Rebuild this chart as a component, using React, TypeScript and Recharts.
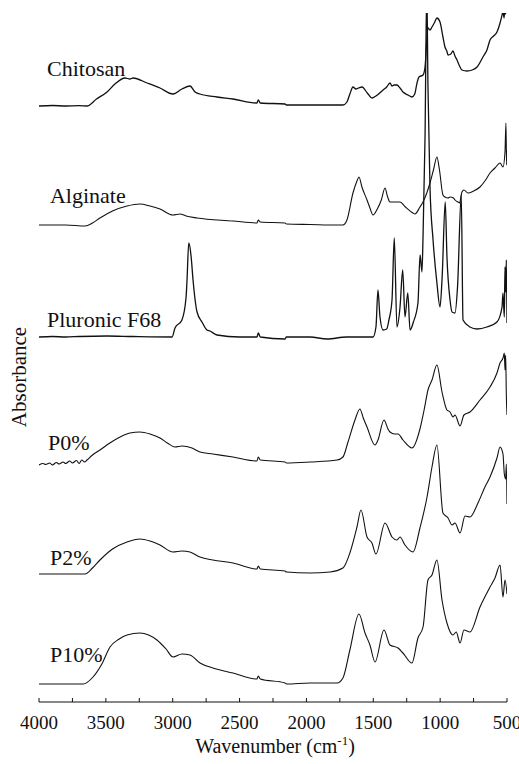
import { LineChart, Line, XAxis, YAxis, ReferenceDot } from "recharts";

const FONT = "Liberation Serif, DejaVu Serif, Noto Serif, serif";
const INK = "#111";

// wavenumber (cm-1), absorbance relative to each trace's own baseline (a.u.)
const chitosan: [number, number][] = [
  [4000, 0], [3900, 0.005], [3800, 0], [3700, 0.003], [3641, 0], [3570, 0.07], [3491, 0.14],
  [3432, 0.22], [3357, 0.28], [3320, 0.27], [3297, 0.28], [3192, 0.23], [3095, 0.18], [2998, 0.12],
  [2931, 0.17], [2871, 0.2], [2833, 0.14], [2796, 0.12], [2669, 0.09], [2549, 0.07], [2370, 0.03],
  [2360, 0.06], [2345, 0.03], [2160, 0.02], [2150, 0.01], [1973, 0.01], [1850, 0.01], [1727, 0.01],
  [1697, 0.04], [1675, 0.12], [1652, 0.19], [1630, 0.17], [1610, 0.18], [1584, 0.19], [1545, 0.13],
  [1510, 0.08], [1480, 0.1], [1427, 0.16], [1400, 0.19], [1375, 0.23], [1360, 0.2], [1345, 0.21],
  [1323, 0.21], [1300, 0.18], [1278, 0.14], [1240, 0.11], [1211, 0.09], [1190, 0.12], [1173, 0.23],
  [1158, 0.29], [1128, 0.31], [1113, 0.39], [1091, 0.78], [1076, 0.76], [1061, 0.79], [1040, 0.84],
  [1024, 0.88], [1001, 0.84], [979, 0.69], [964, 0.59], [950, 0.55], [941, 0.51], [920, 0.52],
  [904, 0.55], [889, 0.5], [874, 0.46], [855, 0.4], [837, 0.36], [799, 0.35], [760, 0.36],
  [724, 0.39], [680, 0.49], [650, 0.56], [627, 0.66], [600, 0.7], [575, 0.74], [552, 0.83],
  [537, 0.91], [530, 0.95], [522, 0.88], [515, 0.99], [510, 0.92], [505, 1.0], [500, 0.95],
];

const alginate: [number, number][] = [
  [4000, 0], [3800, 0], [3656, -0.01], [3600, 0.02], [3544, 0.07], [3450, 0.14], [3342, 0.19],
  [3245, 0.21], [3170, 0.19], [3095, 0.16], [2998, 0.1], [2946, 0.11], [2900, 0.09], [2818, 0.07],
  [2549, 0.04], [2370, 0.02], [2360, 0.05], [2345, 0.03], [2160, 0.02], [2150, 0.01], [1973, 0.005],
  [1771, 0], [1727, 0], [1697, 0.05], [1652, 0.32], [1622, 0.44], [1607, 0.48], [1585, 0.38],
  [1547, 0.25], [1525, 0.17], [1502, 0.1], [1470, 0.16], [1440, 0.25], [1412, 0.37], [1395, 0.29],
  [1375, 0.23], [1345, 0.23], [1300, 0.23], [1260, 0.18], [1203, 0.12], [1188, 0.11], [1151, 0.18],
  [1128, 0.23], [1100, 0.32], [1076, 0.42], [1050, 0.55], [1024, 0.68], [1005, 0.55], [979, 0.3],
  [964, 0.28], [941, 0.27], [926, 0.28], [900, 0.27], [889, 0.25], [866, 0.23], [855, 0.22],
  [837, 0.33], [822, 0.35], [792, 0.32], [750, 0.34], [702, 0.38], [660, 0.45], [627, 0.52],
  [590, 0.57], [552, 0.62], [530, 0.58], [515, 0.73], [508, 1.02], [503, 0.6], [500, 0.75],
];

const pluronic: [number, number][] = [
  [4000, 0], [3900, 0.005], [3800, 0], [3700, 0.005], [3491, 0.01], [3300, 0.005], [3005, 0],
  [2983, 0.09], [2931, 0.17], [2900, 0.4], [2893, 0.57], [2880, 0.94], [2862, 0.8], [2848, 0.57],
  [2818, 0.25], [2781, 0.15], [2744, 0.07], [2721, 0.06], [2669, 0.02], [2500, 0], [2370, 0],
  [2360, 0.04], [2345, 0], [2160, -0.02], [2150, 0], [1973, 0], [1846, -0.02], [1700, 0], [1502, 0],
  [1480, 0.1], [1465, 0.47], [1450, 0.2], [1427, 0.07], [1400, 0.08], [1383, 0.17], [1360, 0.37],
  [1343, 0.99], [1323, 0.1], [1300, 0.3], [1280, 0.67], [1263, 0.2], [1242, 0.44], [1225, 0.07],
  [1200, 0.15], [1166, 0.34], [1150, 0.82], [1136, 0.65], [1128, 1.0], [1113, 2.0], [1100, 3.5],
  [1091, 2.5], [1076, 1.5], [1053, 0.97], [1024, 0.54], [1001, 0.3], [985, 0.6], [962, 1.35],
  [949, 0.8], [926, 0.37], [911, 0.25], [889, 0.24], [870, 0.5], [842, 1.42], [829, 0.17],
  [777, 0.1], [724, 0.08], [650, 0.1], [575, 0.15], [537, 0.3], [530, 0.44], [520, 0.2],
  [515, 0.7], [510, 0.45], [505, 0.77], [500, 0.14],
];

const p0: [number, number][] = [
  [4000, 0], [3970, 0.015], [3950, 0.005], [3920, 0.02], [3900, 0], [3870, 0.025], [3850, 0.01],
  [3820, 0.03], [3800, 0.015], [3770, 0.04], [3750, 0.02], [3720, 0.045], [3700, 0.015],
  [3680, 0.05], [3660, 0.03], [3641, 0.05], [3600, 0.1], [3544, 0.15], [3470, 0.22], [3394, 0.28],
  [3320, 0.32], [3245, 0.33], [3170, 0.31], [3095, 0.27], [3040, 0.22], [2983, 0.18], [2931, 0.19],
  [2856, 0.17], [2796, 0.13], [2700, 0.11], [2549, 0.08], [2370, 0.04], [2360, 0.08], [2345, 0.05],
  [2160, 0.03], [2150, 0.02], [1973, 0.03], [1771, 0.05], [1727, 0.08], [1689, 0.23], [1637, 0.45],
  [1600, 0.56], [1575, 0.47], [1547, 0.38], [1487, 0.2], [1465, 0.25], [1420, 0.45], [1390, 0.36],
  [1375, 0.33], [1340, 0.31], [1315, 0.31], [1278, 0.25], [1211, 0.17], [1151, 0.36], [1120, 0.55],
  [1091, 0.75], [1061, 0.85], [1024, 1.0], [986, 0.73], [949, 0.55], [926, 0.53], [904, 0.48],
  [889, 0.5], [851, 0.39], [822, 0.5], [777, 0.53], [702, 0.65], [627, 0.78], [575, 0.92],
  [552, 1.02], [530, 1.07], [520, 1.12], [515, 0.95], [510, 1.1], [505, 0.7], [500, 0.5],
];

const p2: [number, number][] = [
  [4000, 0], [3800, 0], [3656, 0], [3600, 0.06], [3544, 0.14], [3450, 0.25], [3342, 0.32],
  [3245, 0.35], [3170, 0.33], [3095, 0.29], [2998, 0.22], [2931, 0.23], [2871, 0.22], [2796, 0.17],
  [2700, 0.14], [2549, 0.11], [2370, 0.05], [2360, 0.08], [2345, 0.05], [2160, 0.03], [2150, 0.02],
  [1973, 0.01], [1824, 0.02], [1727, 0.06], [1675, 0.21], [1622, 0.47], [1592, 0.64], [1547, 0.37],
  [1510, 0.31], [1480, 0.2], [1412, 0.51], [1360, 0.37], [1323, 0.34], [1300, 0.37], [1263, 0.29],
  [1203, 0.22], [1151, 0.46], [1098, 0.77], [1061, 1.07], [1024, 1.29], [979, 0.61], [941, 0.56],
  [911, 0.49], [889, 0.51], [851, 0.41], [814, 0.58], [777, 0.57], [717, 0.71], [665, 0.87],
  [627, 0.97], [575, 1.16], [552, 1.27], [530, 1.2], [520, 1.0], [510, 0.95], [505, 1.1], [500, 0.7],
];

const p10: [number, number][] = [
  [4000, 0], [3800, 0], [3671, 0], [3596, 0.07], [3530, 0.2], [3469, 0.37], [3400, 0.45],
  [3342, 0.49], [3245, 0.51], [3180, 0.49], [3118, 0.44], [3050, 0.35], [2998, 0.27], [2931, 0.3],
  [2871, 0.29], [2796, 0.21], [2700, 0.16], [2549, 0.11], [2370, 0.05], [2360, 0.08], [2345, 0.05],
  [2160, 0.01], [2150, 0], [1973, 0.01], [1771, 0.01], [1727, 0.06], [1675, 0.34], [1607, 0.7],
  [1562, 0.51], [1525, 0.39], [1487, 0.22], [1420, 0.54], [1375, 0.39], [1315, 0.36], [1278, 0.31],
  [1211, 0.21], [1166, 0.46], [1128, 0.57], [1091, 1.04], [1061, 1.09], [1024, 1.24], [986, 0.84],
  [949, 0.61], [904, 0.49], [880, 0.52], [851, 0.41], [822, 0.54], [777, 0.52], [702, 0.77],
  [627, 0.97], [590, 1.06], [552, 1.19], [530, 0.87], [515, 1.04], [500, 0.9],
];

const seriesNames = ["Chitosan", "Alginate", "Pluronic F68", "P0%", "P2%", "P10%"];
const seriesData = [chitosan, alginate, pluronic, p0, p2, p10];
const offsets = [5.96, 4.77, 3.65, 2.37, 1.28, 0.18];

// where each trace name sits (wavenumber, absorbance)
const tagWn = [3940, 3918, 3940, 3933, 3918, 3918];
const tagAbs = [6.26, 4.99, 3.75, 2.52, 1.37, 0.4];
const yTitleAt = { w: 4000, a: 3.25 };

const xTicks = [4000, 3750, 3500, 3250, 3000, 2750, 2500, 2250, 2000, 1750, 1500, 1250, 1000, 750, 500];
const topTicks = [4000, 3650, 3300, 2950, 2600, 2250, 1900, 1550, 1200, 850, 500];
const Y_MAX = 6.89;
const yTicks = Array.from({ length: 21 }, (_, i) => (i * Y_MAX) / 20);

function SeriesTag({ viewBox, text }: any) {
  return (
    <text x={viewBox.x} y={viewBox.y} style={{ fontFamily: FONT }} fontSize={22} fill={INK}>
      {text}
    </text>
  );
}

function XTitle({ viewBox }: any) {
  return (
    <text
      x={viewBox.x + viewBox.width / 2 + 2}
      y={viewBox.y + 51}
      textAnchor="middle"
      style={{ fontFamily: FONT }}
      fontSize={20}
      fill={INK}
    >
      <tspan>Wavenumber (cm</tspan>
      <tspan fontSize={13} dy={-8}>-1</tspan>
      <tspan dy={8}>)</tspan>
    </text>
  );
}

function YTitle({ viewBox }: any) {
  const x = viewBox.x - 13;
  const y = viewBox.y;
  return (
    <text
      x={x}
      y={y}
      transform={`rotate(-90, ${x}, ${y})`}
      textAnchor="middle"
      style={{ fontFamily: FONT }}
      fontSize={21}
      fill={INK}
    >
      Absorbance
    </text>
  );
}

export default function App() {
  return (
    <div style={{ position: "absolute", left: 0, top: 0, background: "#fff", fontFamily: FONT }}>
      <LineChart width={519} height={764} margin={{ top: 13, right: 12, bottom: 0, left: 39 }}>
        <XAxis
          dataKey="w"
          type="number"
          domain={[500, 4000]}
          reversed
          allowDataOverflow
          ticks={xTicks}
          interval={0}
          height={62}
          tickSize={-4}
          tickMargin={18}
          tickFormatter={(v: number) => (v % 500 === 0 ? String(v) : "")}
          stroke={INK}
          tick={{ fill: INK, fontSize: 19, style: { fontFamily: FONT } }}
          label={<XTitle />}
        />
        <XAxis
          xAxisId="top"
          orientation="top"
          type="number"
          domain={[500, 4000]}
          reversed
          allowDataOverflow
          ticks={topTicks}
          interval={0}
          height={0}
          tickSize={-3}
          tick={false}
          stroke={INK}
        />
        <YAxis
          type="number"
          domain={[0, Y_MAX]}
          allowDataOverflow
          ticks={yTicks}
          interval={0}
          width={0}
          tickSize={-3}
          tick={false}
          stroke={INK}
        />
        <YAxis
          yAxisId="right"
          orientation="right"
          type="number"
          domain={[0, Y_MAX]}
          allowDataOverflow
          ticks={yTicks}
          interval={0}
          width={0}
          tickSize={-3}
          tick={false}
          stroke={INK}
        />
        {seriesData.map((s, i) => (
          <Line
            key={seriesNames[i]}
            name={seriesNames[i]}
            data={s.map(([w, a]) => ({ w, a: a + offsets[i] }))}
            dataKey="a"
            type="monotone"
            stroke={INK}
            strokeWidth={i === 0 || i === 2 ? 1.3 : 1.1}
            dot={false}
            activeDot={false}
            isAnimationActive={false}
          />
        ))}
        {seriesNames.map((n, i) => (
          <ReferenceDot
            key={"tag-" + n}
            x={tagWn[i]}
            y={tagAbs[i]}
            r={0}
            fill="none"
            stroke="none"
            label={<SeriesTag text={n} />}
          />
        ))}
        <ReferenceDot
          x={yTitleAt.w}
          y={yTitleAt.a}
          r={0}
          fill="none"
          stroke="none"
          ifOverflow="visible"
          label={<YTitle />}
        />
      </LineChart>
    </div>
  );
}
